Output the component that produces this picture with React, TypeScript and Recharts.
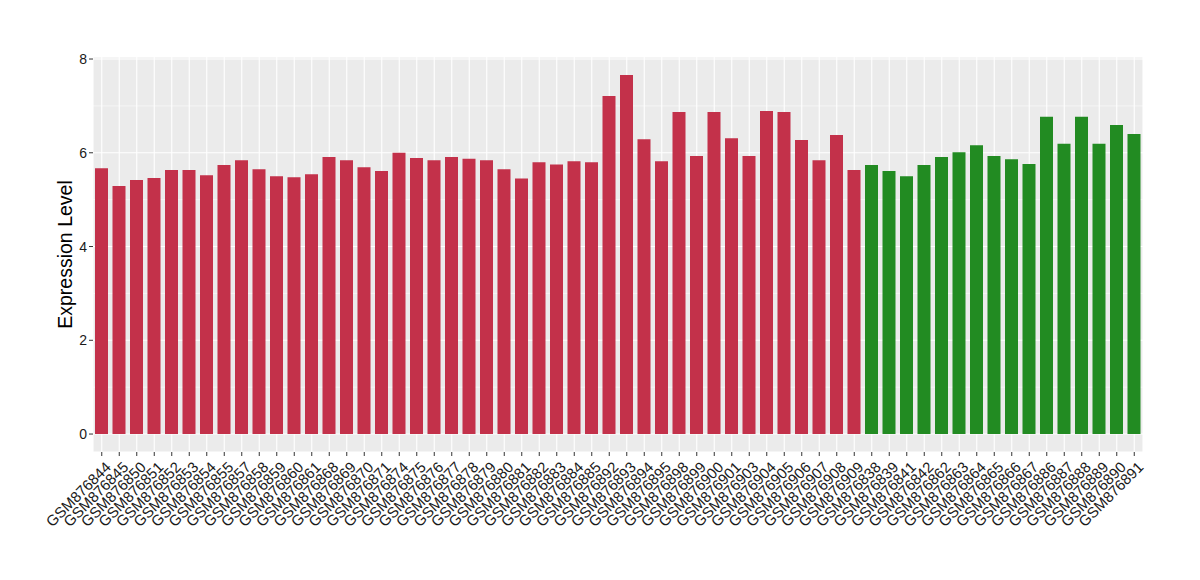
import { BarChart, Bar, XAxis, YAxis, CartesianGrid, Cell, Label } from "recharts";

const samples = [
  "GSM876844", "GSM876845", "GSM876850", "GSM876851", "GSM876852", "GSM876853", "GSM876854", "GSM876855",
  "GSM876857", "GSM876858", "GSM876859", "GSM876860", "GSM876861", "GSM876868", "GSM876869", "GSM876870",
  "GSM876871", "GSM876874", "GSM876875", "GSM876876", "GSM876877", "GSM876878", "GSM876879", "GSM876880",
  "GSM876881", "GSM876882", "GSM876883", "GSM876884", "GSM876885", "GSM876892", "GSM876893", "GSM876894",
  "GSM876895", "GSM876898", "GSM876899", "GSM876900", "GSM876901", "GSM876903", "GSM876904", "GSM876905",
  "GSM876906", "GSM876907", "GSM876908", "GSM876909",
  "GSM876838", "GSM876839", "GSM876841", "GSM876842", "GSM876862", "GSM876863", "GSM876864", "GSM876865",
  "GSM876866", "GSM876867", "GSM876886", "GSM876887", "GSM876888", "GSM876889", "GSM876890", "GSM876891",
];

const values = [
  5.67, 5.29, 5.42, 5.46, 5.63, 5.63, 5.52, 5.74,
  5.84, 5.65, 5.50, 5.48, 5.54, 5.91, 5.84, 5.69,
  5.61, 6.00, 5.89, 5.84, 5.91, 5.87, 5.84, 5.65,
  5.45, 5.80, 5.75, 5.82, 5.80, 7.21, 7.66, 6.29,
  5.82, 6.87, 5.93, 6.87, 6.31, 5.93, 6.89, 6.87,
  6.27, 5.84, 6.38, 5.63,
  5.74, 5.61, 5.50, 5.74, 5.91, 6.01, 6.16, 5.93,
  5.86, 5.76, 6.77, 6.19, 6.77, 6.19, 6.59, 6.40,
];

const groups = [...Array(44).fill("a"), ...Array(16).fill("b")];
const groupColors: Record<string, string> = { a: "#C3314A", b: "#228B22" };

const yDomain = [-0.383, 8.043];
const yTicks = [0, 2, 4, 6, 8];
const yMinor = [1, 3, 5, 7];

const data = samples.map((s, i) => ({ sample: s, value: values[i], group: groups[i] }));

const font = "Liberation Sans, Arial, sans-serif";

function XTick(props: any) {
  const { x, y, payload } = props;
  return (
    <text
      x={x}
      y={y}
      textAnchor="end"
      dy="0.95em"
      fontSize={15}
      fontFamily={font}
      fill="#1a1a1a"
      transform={`rotate(-45 ${x} ${y})`}
    >
      {payload.value}
    </text>
  );
}

// minor grid lines between the labelled ticks
function minorLines(p: any) {
  const { top, height } = p.offset;
  return yMinor.map((v) => top + (height * (yDomain[1] - v)) / (yDomain[1] - yDomain[0]));
}

export default function App() {
  return (
    <div style={{ position: "absolute", left: 0, top: 0, width: 1200, height: 580, background: "#fff" }}>
      <BarChart width={1200} height={580} data={data} margin={{ top: 57, right: 57, left: 0, bottom: 0 }}>
        <CartesianGrid
          fill="#EBEBEB"
          stroke="#FFFFFF"
          strokeWidth={0.55}
          vertical={false}
          horizontalCoordinatesGenerator={minorLines}
        />
        <CartesianGrid stroke="#FFFFFF" strokeWidth={1.1} />
        <XAxis
          dataKey="sample"
          interval={0}
          height={128}
          tick={<XTick />}
          tickSize={4}
          tickMargin={2}
          tickLine={{ stroke: "#333" }}
          axisLine={false}
        />
        <YAxis
          width={93}
          domain={yDomain}
          ticks={yTicks}
          allowDataOverflow
          tickSize={4}
          tickMargin={2}
          tickLine={{ stroke: "#333" }}
          axisLine={false}
          tick={{ fontSize: 14, fontFamily: font, fill: "#1a1a1a" }}
        >
          <Label
            content={(p: any) => {
              const vb = p.viewBox;
              const cy = vb.y + vb.height / 2;
              return (
                <text x={72} y={cy} transform={`rotate(-90 72 ${cy})`} textAnchor="middle" fontSize={19.5} fontFamily={font} fill="#000">
                  Expression Level
                </text>
              );
            }}
          />
        </YAxis>
        <Bar dataKey="value" barSize={13} isAnimationActive={false}>
          {data.map((d, i) => (
            <Cell key={i} fill={groupColors[d.group]} />
          ))}
        </Bar>
      </BarChart>
    </div>
  );
}
